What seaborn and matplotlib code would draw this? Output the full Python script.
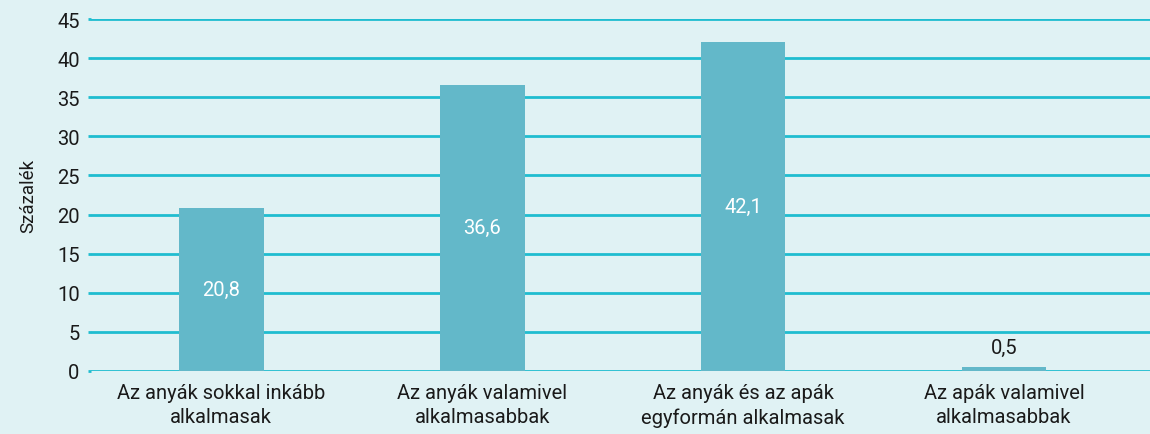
import matplotlib
matplotlib.use('Agg')
import matplotlib.pyplot as plt
import seaborn as sns
import pandas as pd

categories = ['Az anyák sokkal inkább\nalkalmasak',
              'Az anyák valamivel\nalkalmasabbak',
              'Az anyák és az apák\negyformán alkalmasak',
              'Az apák valamivel\nalkalmasabbak']
values = [20.8, 36.6, 42.1, 0.5]
value_labels = ['20,8', '36,6', '42,1', '0,5']
yticks = [0, 5, 10, 15, 20, 25, 30, 35, 40, 45]

bg = '#e0f2f4'
grid_c = '#1fbdd0'
bar_c = '#63b8c9'
text_c = '#1a1a1a'

sns.set_style('white')
plt.rcParams['font.family'] = ['Roboto', 'DejaVu Sans']

df = pd.DataFrame({'cat': categories, 'val': values})

fig = plt.figure(figsize=(11.5, 4.35), dpi=100, facecolor=bg)
ax = fig.add_axes([0.079, 0.145, 0.921, 0.809])
ax.set_facecolor(bg)
sns.barplot(data=df, x='cat', y='val', color=bar_c, width=0.325,
            saturation=1, linewidth=0, ax=ax, zorder=3)

ax.set_ylim(0, 45)
ax.set_xlim(-0.5, 3.56)
ax.set_yticks(yticks)
ax.set_yticklabels([str(t) for t in yticks])
ax.yaxis.grid(True, color=grid_c, linewidth=2)
ax.set_axisbelow(True)
for s in ax.spines.values():
    s.set_visible(False)
ax.tick_params(axis='y', length=2, width=2, color=grid_c, pad=6,
               labelsize=14.5, labelcolor=text_c, left=True)
ax.tick_params(axis='x', length=0, pad=9, labelsize=14.5, labelcolor=text_c)
for t in ax.get_xticklabels():
    t.set_linespacing(1.3)
ax.set_xlabel('')
ax.set_ylabel('Százalék', fontsize=13.5, color=text_c, labelpad=14)

for i, (v, lab) in enumerate(zip(values, value_labels)):
    if v > 5:
        ax.text(i, v / 2, lab, ha='center', va='center', color='white',
                fontsize=14.5, zorder=4)
    else:
        ax.text(i, v + 1.3, lab, ha='center', va='bottom', color=text_c,
                fontsize=14.5, zorder=4)

plt.savefig('out.png', dpi=100, facecolor=bg)
plt.close()
